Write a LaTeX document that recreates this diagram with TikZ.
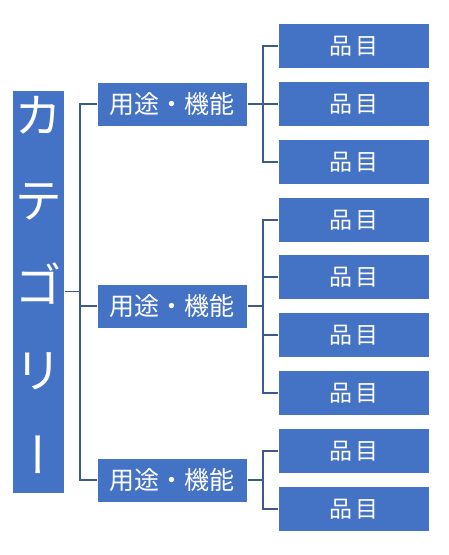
\documentclass[tikz,border=0pt]{standalone}
\usepackage{fontspec}
\setmainfont{Noto Sans CJK JP}
\newfontfamily\vertfont[RawFeature={+vert}]{Noto Sans CJK JP}
\definecolor{boxblue}{HTML}{4472C4}
\definecolor{linkblue}{HTML}{3C5A8E}
\begin{document}
\begin{tikzpicture}[x=1pt,y=-1pt,
  catbox/.style={fill=boxblue, draw=white, line width=1pt, minimum width=52pt, minimum height=403pt, inner sep=0pt},
  midbox/.style={fill=boxblue, draw=white, line width=1pt, minimum width=150pt, minimum height=44pt, inner sep=0pt, text=white, font=\fontsize{25}{28}\selectfont},
  leafbox/.style={fill=boxblue, draw=white, line width=1.5pt, minimum width=151pt, minimum height=45pt, inner sep=0pt, text=white, font=\fontsize{23}{26}\selectfont},
  link/.style={draw=linkblue, line width=1.8pt}
]
\useasboundingbox (0,0) rectangle (449,555);
% category
\node[catbox] (cat) at (38,291.5) {};
\node[text=white, font=\vertfont\fontsize{48}{85}\selectfont, align=center, inner sep=0pt] (cattext) at (38,285) {カ\\テ\\ゴ\\リ\\ー};
% middle boxes
\node[midbox] (m1) at (172,104) {用途・機能};
\node[midbox] (m2) at (172,306) {用途・機能};
\node[midbox] (m3) at (172,480) {用途・機能};
% leaves
\foreach \i/\y in {1/46,2/104,3/162,4/220,5/277,6/335,7/393,8/451,9/509}{
  \node[leafbox] (l\i) at (354,\y) {品\,目};
}
% spine coordinates
\coordinate (sp) at (80,0);
\coordinate (lp) at (263,0);
\draw[link] (cat.east) -- (cat.east -| sp);
\draw[link] (m1.west) -- (m1.west -| sp) -- (m3.west -| sp) -- (m3.west);
\draw[link] (m2.west) -- (m2.west -| sp);
% group 1
\draw[link] (m1.east) -- (m1.east -| lp);
\draw[link] (l1.west) -- (l1.west -| lp) -- (l3.west -| lp) -- (l3.west);
\draw[link] (l2.west) -- (l2.west -| lp);
% group 2
\draw[link] (m2.east) -- (m2.east -| lp);
\draw[link] (l4.west) -- (l4.west -| lp) -- (l7.west -| lp) -- (l7.west);
\draw[link] (l5.west) -- (l5.west -| lp);
\draw[link] (l6.west) -- (l6.west -| lp);
% group 3
\draw[link] (m3.east) -- (m3.east -| lp);
\draw[link] (l8.west) -- (l8.west -| lp) -- (l9.west -| lp) -- (l9.west);
\end{tikzpicture}
\end{document}
